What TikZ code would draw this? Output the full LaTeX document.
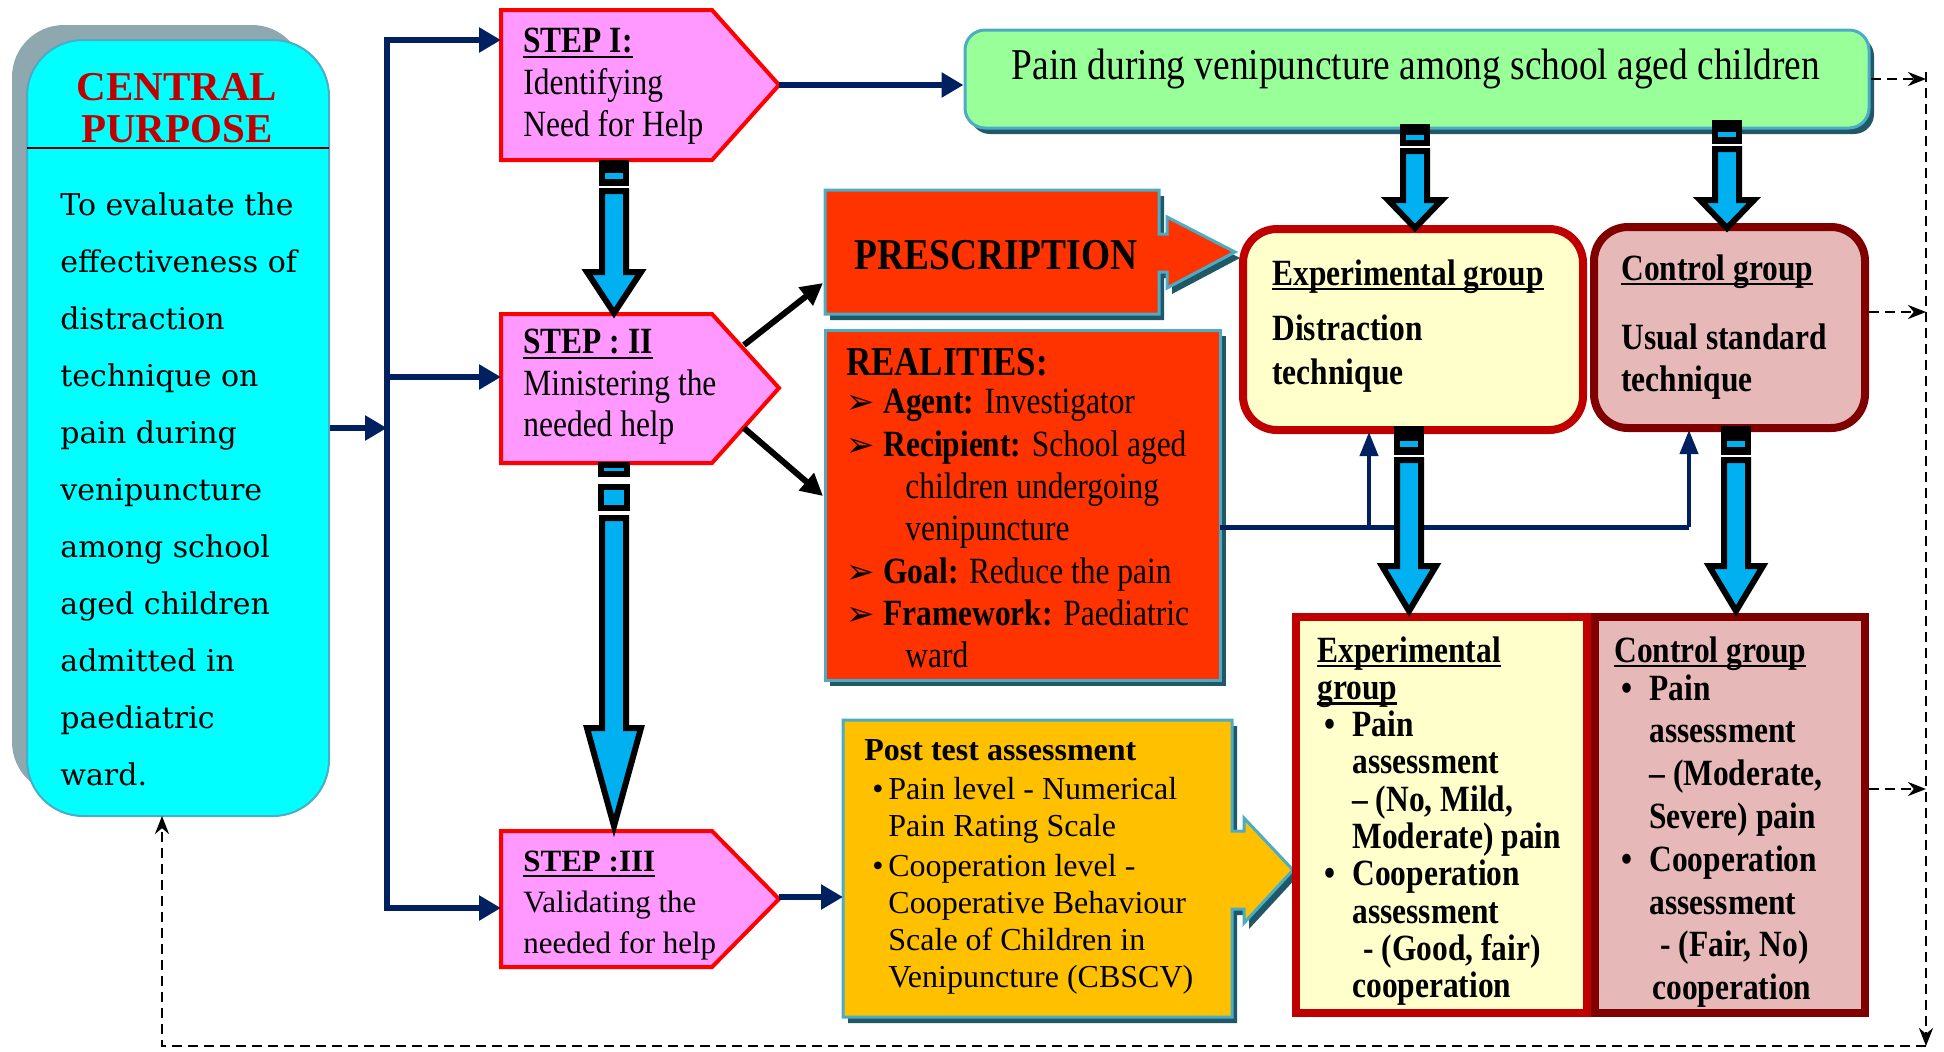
\documentclass[tikz,border=0pt]{standalone}
\usepackage{fontspec}
\setmainfont{Liberation Serif}
\newfontfamily\condfont{Liberation Serif}[FakeStretch=0.85]
\newfontfamily\cpfont{DejaVu Serif}
\newfontfamily\symfont{DejaVu Sans}
\usetikzlibrary{fit,arrows.meta}
\definecolor{navy}{HTML}{002060}
\definecolor{cyanf}{HTML}{00FFFF}
\definecolor{cpshadow}{HTML}{8FA7AF}
\definecolor{cpred}{HTML}{C00000}
\definecolor{pinkf}{HTML}{FF99FF}
\definecolor{greenf}{HTML}{99FF99}
\definecolor{orangef}{HTML}{FF3300}
\definecolor{bordblue}{HTML}{4BACC6}
\definecolor{shteal}{HTML}{215868}
\definecolor{goldf}{HTML}{FFC000}
\definecolor{expf}{HTML}{FFFFCC}
\definecolor{expd}{HTML}{C00000}
\definecolor{ctrlf}{HTML}{E6B9B8}
\definecolor{ctrld}{HTML}{800000}
\definecolor{arrowblue}{HTML}{00B0F0}
\newcommand\blarrow[4]{\draw[blarr] (#1-12,#2) -- (#1+12,#2) -- (#1+12,#3) -- (#1+27,#3) -- (#1,#4) -- (#1-27,#3) -- (#1-12,#3) -- cycle;}
\newcommand\bltail[3]{\fill[black] (#1-15,#2) rectangle (#1+15,#3); \fill[arrowblue] (#1-9,{#2+0.5*(#3-#2)}) rectangle (#1+9,{#2+0.72*(#3-#2)});}
\newcommand\rbul{\makebox[18.5pt][l]{\symfont\fontsize{17}{17}\selectfont ➢}}
\newcommand\ebul{\hspace*{3.5pt}\makebox[14pt][l]{\textbullet}}
\newcommand\pbul{\hspace*{4pt}\makebox[8pt][l]{\textbullet}}
\newcommand\thul[1]{\setbox0\hbox{#1}\rlap{\rule[-2.6pt]{\wd0}{1.3pt}}\box0}
\tikzset{
  boxtext/.style={anchor=north west, inner sep=0pt, align=left},
  stepshape/.style={fill=pinkf, draw=red, line width=2pt, line join=miter},
  callout/.style={draw=bordblue, line width=1.5pt, line join=miter},
  navyline/.style={draw=navy, line width=3.25pt},
  navytip/.style={-{Triangle[length=11pt,width=12pt]}},
  blackarr/.style={draw=black, line width=3pt, -{Triangle[length=11pt,width=11pt]}},
  thinnavy/.style={draw=navy, line width=2pt, -{Triangle[length=12pt,width=9pt]}},
  dasharr/.style={draw=black, line width=1.4pt, dash pattern=on 5pt off 3pt, -{Stealth[length=9pt,width=7pt]}},
  blarr/.style={fill=arrowblue, draw=black, line width=3pt, line join=miter},
}
\begin{document}
\begin{tikzpicture}[x=0.5pt,y=-0.5pt]
\useasboundingbox (0,0) rectangle (1944,1051);

% ---------- central purpose ----------
\node[fit={(12,25) (304,794)}, inner sep=0pt, rounded corners=26pt, fill=cpshadow] (cpsh) {};
\node[fit={(27,40) (329,816)}, inner sep=0pt, rounded corners=28pt, fill=cyanf, draw=bordblue, line width=1pt] (cp) {};
\draw[black, line width=1pt] (27,148) -- (329,148);
\node[font=\bfseries\fontsize{20.5}{21}\selectfont, text=cpred, align=center] (cptitle) at (177,108) {CENTRAL\\PURPOSE};
\node[boxtext, font=\cpfont\fontsize{15}{28.5}\selectfont] (cptext) at (60,192)
  {To evaluate the\\effectiveness of\\distraction\\technique on\\pain during\\venipuncture\\among school\\aged children\\admitted in\\paediatric\\ward.};

% ---------- steps ----------
\draw[stepshape] (501,10) -- (712,10) -- (779,85) -- (712,160) -- (501,160) -- cycle;
\draw[stepshape] (501,314) -- (712,314) -- (779,388) -- (712,463) -- (501,463) -- cycle;
\draw[stepshape] (501,831) -- (712,831) -- (779,899) -- (712,967) -- (501,967) -- cycle;
\coordinate (s1tip) at (779,85);
\coordinate (s3tip) at (779,897);
\coordinate (s1in) at (501,40);
\coordinate (s2in) at (501,377);
\coordinate (s3in) at (501,908);
\coordinate (s2up) at (744,345);
\coordinate (s2dn) at (744,428);
\node[boxtext, font=\condfont\fontsize{18.5}{21}\selectfont] (s1text) at (523,28)
  {\textbf{\thul{STEP I:}}\\Identifying\\Need for Help};
\node[boxtext, font=\condfont\fontsize{18.5}{20.75}\selectfont] (s2text) at (523,329)
  {\textbf{\thul{STEP : II}}\\Ministering the\\needed help};
\node[boxtext, font=\fontsize{15.5}{20.5}\selectfont] (s3text) at (523,851)
  {\textbf{\thul{STEP :III}}\\Validating the\\needed for help};

% ---------- green problem box ----------
\node[fit={(970,36) (1874,134)}, inner sep=0pt, rounded corners=10pt, fill=shteal] (greensh) {};
\node[fit={(965,30) (1869,128)}, inner sep=0pt, rounded corners=10pt, fill=greenf, draw=bordblue, line width=1.5pt] (green) {};
\node[font=\condfont\fontsize{22}{24}\selectfont] (greentext) at (1416,69) {Pain during venipuncture among school aged children};

% ---------- prescription ----------
\fill[shteal, shift={(5,6)}] (825,190) -- (1159,190) -- (1159,234) -- (1167,234) -- (1167,217) -- (1235,252) -- (1167,288) -- (1167,272) -- (1159,272) -- (1159,314) -- (825,314) -- cycle;
\draw[callout, fill=orangef] (825,190) -- (1159,190) -- (1159,234) -- (1167,234) -- (1167,217) -- (1235,252) -- (1167,288) -- (1167,272) -- (1159,272) -- (1159,314) -- (825,314) -- cycle;
\coordinate (prescin) at (823,283);
\node[font=\condfont\bfseries\fontsize{22}{24}\selectfont] (presctext) at (996,255) {PRESCRIPTION};

% ---------- realities ----------
\node[fit={(830,336) (1226,686)}, inner sep=0pt, fill=shteal] (realsh) {};
\node[fit={(825,330) (1220,680)}, inner sep=0pt, fill=orangef, draw=bordblue, line width=1.5pt] (real) {};
\coordinate (realin) at (823,496);
\coordinate (realout) at (1220,527);
\node[boxtext, font=\condfont\bfseries\fontsize{20.5}{22}\selectfont] (realtitle) at (846,348) {REALITIES:};
\node[boxtext, font=\condfont\fontsize{18.5}{21.15}\selectfont] (realtext) at (846,389)
  {\rbul\textbf{Agent:} Investigator\\
   \rbul\textbf{Recipient:} School aged\\
   \hspace*{29.5pt}children undergoing\\
   \hspace*{29.5pt}venipuncture\\
   \rbul\textbf{Goal:} Reduce the pain\\
   \rbul\textbf{Framework:} Paediatric\\
   \hspace*{29.5pt}ward};

% ---------- post test ----------
\fill[shteal, shift={(5,6)}] (843,720) -- (1232,720) -- (1232,831) -- (1244,831) -- (1244,818) -- (1293,870) -- (1244,923) -- (1244,909) -- (1232,909) -- (1232,1017) -- (843,1017) -- cycle;
\draw[callout, fill=goldf] (843,720) -- (1232,720) -- (1232,831) -- (1244,831) -- (1244,818) -- (1293,870) -- (1244,923) -- (1244,909) -- (1232,909) -- (1232,1017) -- (843,1017) -- cycle;
\coordinate (postin) at (843,897);
\node[boxtext, font=\fontsize{16}{18.5}\selectfont] (posttext) at (864,739)
  {\textbf{Post test assessment}\\[1pt]
   \pbul Pain level - Numerical\\
   \hspace*{12pt}Pain Rating Scale\\[1.5pt]
   \pbul Cooperation level -\\
   \hspace*{12pt}Cooperative Behaviour\\
   \hspace*{12pt}Scale of Children in\\
   \hspace*{12pt}Venipuncture (CBSCV)};

% ---------- group boxes (top) ----------
\node[fit={(1594,227) (1865,428)}, inner sep=0pt, rounded corners=17pt, fill=ctrlf, draw=ctrld, line width=4pt] (ctrl) {};
\node[fit={(1243,229) (1583,430)}, inner sep=0pt, rounded corners=17pt, fill=expf, draw=expd, line width=4pt] (exp) {};
\node[boxtext, font=\condfont\bfseries\fontsize{18.5}{22}\selectfont] (exptext) at (1272,259)
  {\thul{Experimental group}\\[5.5pt]Distraction\\technique};
\node[boxtext, font=\condfont\bfseries\fontsize{18.5}{21}\selectfont] (ctrltext) at (1621,254)
  {\thul{Control group}\\[13.5pt]Usual standard\\technique};

% ---------- group boxes (bottom) ----------
\node[fit={(1595,617) (1865,1013)}, inner sep=0pt, fill=ctrlf, draw=ctrld, line width=4pt] (ctrlb) {};
\node[fit={(1296,617) (1587,1013)}, inner sep=0pt, fill=expf, draw=expd, line width=4pt] (expb) {};
\node[boxtext, font=\condfont\bfseries\fontsize{18.5}{18.65}\selectfont] (expbtext) at (1317,636)
  {\thul{Experimental}\\\thul{group}\\
   \ebul Pain\\
   \hspace*{17.5pt}assessment\\
   \hspace*{17.5pt}– (No, Mild,\\
   \hspace*{17.5pt}Moderate) pain\\
   \ebul Cooperation\\
   \hspace*{17.5pt}assessment\\
   \hspace*{19pt} - (Good, fair)\\
   \hspace*{17.5pt}cooperation};
\node[boxtext, font=\condfont\bfseries\fontsize{18.5}{21.4}\selectfont] (ctrlbtext) at (1614,636)
  {\thul{Control group}\\[-2.4pt]
   \ebul Pain\\
   \hspace*{17.5pt}assessment\\
   \hspace*{17.5pt}– (Moderate,\\
   \hspace*{17.5pt}Severe) pain\\
   \ebul Cooperation\\
   \hspace*{17.5pt}assessment\\
   \hspace*{19pt} - (Fair, No)\\
   \hspace*{19pt}cooperation};

% ---------- navy connectors ----------
\coordinate (tTop) at (387,40);
\coordinate (tBot) at (387,908);
\draw[navyline, {Triangle[length=11pt,width=12pt]}-{Triangle[length=11pt,width=12pt]}] (s1in) -- (tTop) -- (tBot) -- (s3in);
\draw[navyline, navytip] (tTop |- s2in) -- (s2in);
\draw[navyline, navytip] (cp.east) -- (tTop |- cp.east);
\draw[navyline, navytip] (s1tip) -- (s1tip -| green.west);
\draw[navyline, navytip] (s3tip) -- (s3tip -| postin);

% black arrows from step II
\draw[blackarr] (s2up) -- (prescin);
\draw[blackarr] (s2dn) -- (realin);

% realities to groups
\coordinate (eIn) at (1369,432);
\coordinate (cIn) at (1689,430);
\draw[draw=navy, line width=2.5pt] (realout) -- (cIn |- realout);
\draw[thinnavy] (cIn |- realout) -- (cIn);
\draw[thinnavy] (eIn |- realout) -- (eIn);

% ---------- blue block arrows ----------
\bltail{614}{160}{186}
\blarrow{614}{191}{272}{313}
\draw[blarr] (601,465) rectangle (627,474);
\draw[blarr] (601,487) rectangle (627,508);
\blarrow{614}{518}{728}{826}
\bltail{1415}{124}{146}
\blarrow{1415}{151}{200}{228}
\bltail{1727}{120}{144}
\blarrow{1727}{149}{200}{228}
\bltail{1409}{426}{455}
\blarrow{1409}{460}{566}{611}
\bltail{1736}{426}{455}
\blarrow{1736}{460}{566}{611}

% ---------- dashed feedback ----------
\coordinate (dR1) at (1926,79);
\coordinate (dR2) at (1926,312);
\coordinate (dR3) at (1926,789);
\coordinate (dBR) at (1926,1046);
\coordinate (dBL) at (162,1046);
\coordinate (cpIn) at (162,816);
\draw[dasharr] (green.east) -- (dR1);
\draw[dasharr] (ctrl.east |- dR2) -- (dR2);
\draw[dasharr] (ctrlb.east |- dR3) -- (dR3);
\draw[dasharr] (1926,72) -- (dBR);
\draw[dasharr] (dBR) -- (dBL) -- (cpIn);
\end{tikzpicture}
\end{document}
